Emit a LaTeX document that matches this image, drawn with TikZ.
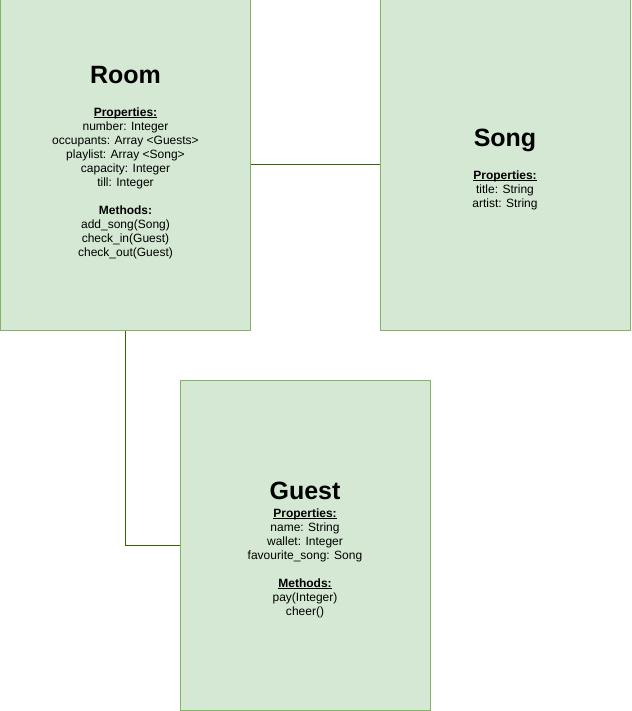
\documentclass[tikz,border=0pt]{standalone}
\usepackage{fontspec}
\setmainfont{Liberation Sans}
\definecolor{boxfill}{HTML}{D5E8D4}
\definecolor{boxline}{HTML}{82B366}
\definecolor{linkline}{HTML}{336600}
% bold heading with a thin rule just under its baseline
\newcommand{\headul}[1]{\setbox0\hbox{\textbf{#1}}\rlap{\rule[-1.8pt]{\wd0}{0.8pt}}\box0}
\begin{document}
\begin{tikzpicture}[x=1pt,y=-1pt,
  classbox/.style={draw=boxline,fill=boxfill,line width=1pt,minimum width=250pt,minimum height=330pt,inner sep=0pt},
  classtitle/.style={anchor=base,inner sep=0pt,font=\fontsize{25}{29}\selectfont\bfseries},
  classbody/.style={anchor=north,inner sep=0pt,align=center,font=\fontsize{12}{14}\selectfont},
  link/.style={draw=linkline,line width=1pt}]
\useasboundingbox (0,0) rectangle (631,711);
% class boxes
\node[classbox] (room) at (125.5,165) {};
\node[classbox] (song) at (505,165) {};
\node[classbox] (guest) at (305,545) {};
% Room
\node[classtitle] (roomtitle) at (125.5,84) {Room};
\node[classbody] (roombody) at (125.5,107.5) {\headul{Properties:}\\
number: Integer\\
occupants: Array <Guests>\\
playlist: Array <Song>\\
capacity: Integer\\
till: Integer\\
\strut\\
\textbf{Methods:}\\
add\_song(Song)\\
check\_in(Guest)\\
check\_out(Guest)\strut};
% Song
\node[classtitle] (songtitle) at (505,147) {Song};
\node[classbody] (songbody) at (505,170.5) {\headul{Properties:}\\
title: String\\
artist: String\strut};
% Guest
\node[classtitle] (guesttitle) at (305,499) {Guest};
\node[classbody] (guestbody) at (305,508.5) {\headul{Properties:}\\
name: String\\
wallet: Integer\\
favourite\_song: Song\\
\strut\\
\headul{Methods:}\\
pay(Integer)\\
cheer()\strut};
% associations
\draw[link] (room.east) -- (song.west);
\draw[link] (room.south) |- (guest.west);
\end{tikzpicture}
\end{document}
